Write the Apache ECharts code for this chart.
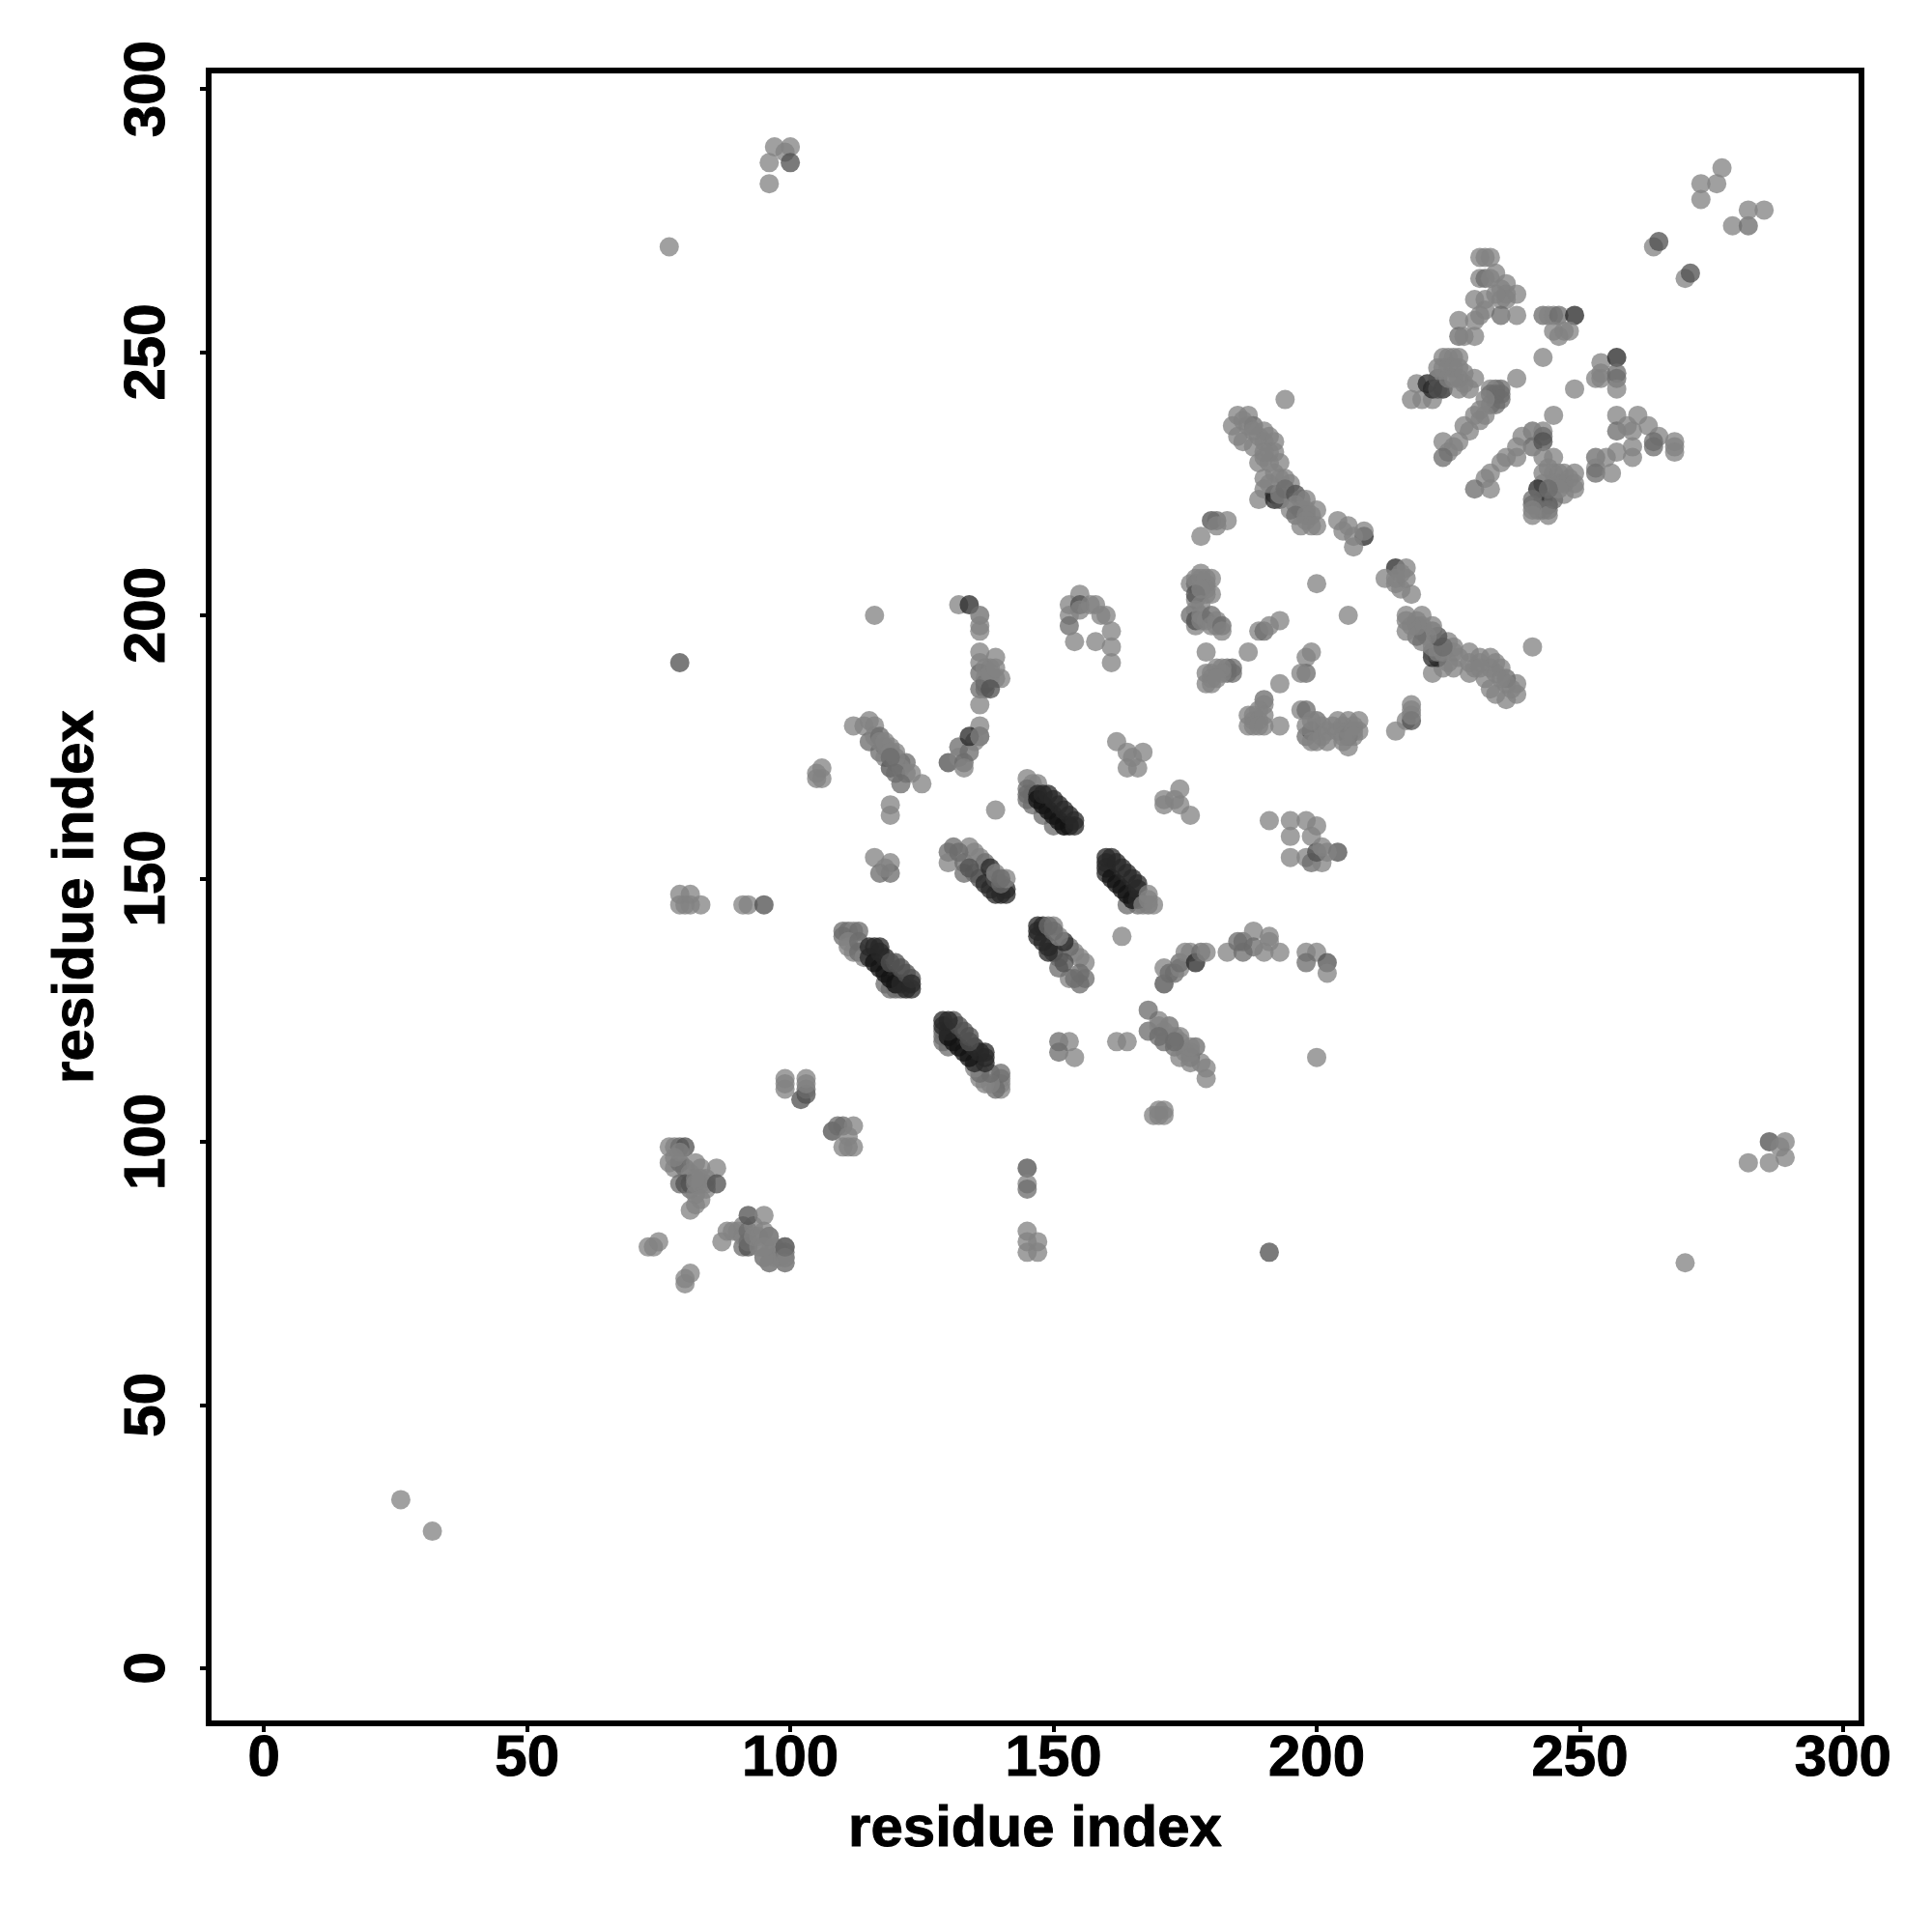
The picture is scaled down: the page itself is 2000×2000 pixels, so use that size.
<!DOCTYPE html>
<html><head><meta charset="utf-8">
<style>html,body{margin:0;padding:0;background:#fff}#c{width:2000px;height:2000px}</style>
<script src="https://cdn.jsdelivr.net/npm/echarts@6/dist/echarts.min.js"></script>
</head><body><div id="c"></div>
<script>
const tickValues = [0,50,100,150,200,250,300];
const axisTitle = "residue index";
// shade index for each contact: 0 light, 1 mid, 2 dim, 3 dark, 4 darkest
const shadeGrey = [130,108,80,40,18];
// every entry: [residue x, residue y, shade]
const isolated = [[26,32,0],[32,26,0],[77,270,0],[270,77,0],[79,191,2],[191,79,2],[96,282,0],[96,286,0],[97,289,0],[99,288,0],[100,289,0],[100,286,2],
[282,96,0],[286,96,0],[286,100,2],[289,97,0],[289,100,0],[288,99,0],
[277,285,0],[273,282,0],[276,282,0],[273,279,0],[279,274,0],[282,274,1],[282,277,0],[285,277,0],
[264,270,0],[265,271,2],[270,264,0],[271,265,2],[116,200,0],[200,116,0],[139,163,0],[163,139,0],[194,241,0],[241,194,0],[200,206,0],[206,200,0]];
const lowCluster = [[77,99,0],[78,99,0],[79,99,1],[80,99,2],[77,96,0],[78,95,0],[79,96,1],[80,95,1],[78,97,0],[79,98,0],[81,94,0],[82,96,0],[83,95,0],[86,95,0],[79,92,1],[80,92,2],[81,91,1],[81,92,2],[82,92,0],[84,92,0],[82,90,0],[83,93,0],[84,93,0],[83,92,0],[84,91,0],[82,93,0],[86,92,2],[81,87,0],[82,88,0],[83,89,0],
[73,80,0],[74,80,0],[75,81,0],[87,81,0],[88,83,0],[89,83,0],[90,83,0],[91,84,0],[91,80,1],[91,82,0],[92,80,2],[92,81,1],[92,83,1],[93,84,0],[93,82,0],[94,80,0],[94,82,0],[92,86,2],[95,86,0],[95,83,0],[96,82,1],[95,78,0],[96,77,0],[96,79,0],[97,80,0],[97,78,0],[98,78,0],[98,79,0],[99,77,0],[99,78,1],[99,79,1],[99,80,2],[81,75,0],[80,74,0],[80,73,0],
[99,77,0],[99,78,0],[99,80,1],[96,77,0],[95,78,0],[95,80,0],[96,82,0],
[99,110,0],[99,111,0],[99,112,0],[102,108,2],[103,109,2],[103,110,1],[103,111,0],[103,112,0],
[108,102,2],[109,103,1],[110,103,1],[111,101,0],[110,99,0],[111,99,0],[112,99,0],[112,103,0],
[145,95,2],[145,92,0],[145,91,1],[145,83,0],[145,81,0],[145,79,0],[147,81,0],[147,79,0],
[79,145,0],[80,145,0],[81,145,0],[83,145,0],[79,147,0],[81,147,0],[91,145,0],[92,145,0],[95,145,2],
[105,169,0],[105,170,0],[106,169,0],[106,171,0],[169,105,0],[170,105,0],[171,105,0],[171,106,0],[170,106,0]];
const bandUpperLeft = [[112,179,0],[115,180,0],[114,179,0],[116,179,0],[115,176,1],[116,177,0],[117,177,1],[118,175,1],[119,175,0],[117,174,1],[118,173,0],[120,174,0],[119,171,2],[120,172,1],[121,172,0],[122,172,1],[117,176,0],[118,176,0],[119,174,0],[120,173,0],[121,171,0],[122,170,0],[120,170,1],[119,173,1],[123,170,0],[121,168,1],[125,168,0],
[119,164,0],[119,162,0],[116,154,0],[119,153,0],[117,151,1],[119,151,1],[118,152,0],
[179,112,0],[179,114,0],[178,115,0],[176,116,1],[175,117,0],[174,120,0],[172,122,1],[171,119,1],[170,123,0],[168,121,1],[168,125,1],[173,118,1],[177,118,1],[176,115,0],[174,116,0],[176,117,0],[176,118,0],[174,119,0],[173,120,0],[171,121,0],[170,122,0],[170,120,1],[173,119,1],
[151,119,1],[153,119,0],[151,117,1],[154,116,0],[162,119,0],[164,119,0]];
const bandUpperMid = [[132,202,0],[134,202,3],[136,200,1],[136,198,0],[136,197,0],[136,193,0],[139,192,0],[136,191,0],[138,190,0],[136,189,1],[137,187,2],[137,186,1],[138,188,0],[140,188,0],[137,190,0],[137,188,0],[139,188,0],[138,189,0],[139,190,0],[136,186,1],[138,186,2],[136,183,0],[136,179,0],[136,177,1],
[130,172,2],[132,175,1],[132,173,0],[133,172,1],[134,174,1],[133,171,0],[135,176,0],[134,177,3],[136,177,0],
[153,202,0],[153,200,0],[153,198,1],[155,204,0],[155,202,2],[155,201,0],[154,195,0],[157,202,0],[158,202,0],[159,200,0],[160,200,0],[161,197,0],[158,195,0],[161,194,0],[161,191,0],
[162,176,0],[164,174,0],[164,171,0],[166,171,0],[165,173,0],[167,174,0],[171,165,0],[171,164,0],[174,167,0],[174,164,0],[173,165,0],[176,162,0],
[191,161,0],[195,161,0],[198,161,0],[200,160,0],[195,158,0],[199,158,0],[195,154,0],[198,154,0],[199,153,1],[201,153,0],[200,155,2],[201,156,0],[204,155,2],[202,155,0]];
const strandOne = [[145,169,0],[147,168,0],[146,168,0],[145,167,1],[145,166,1],[145,165,1],[146,166,1],[146,164,1],[148,162,1],[150,160,1],[152,160,1],
[147,166,3],[147,165,4],[148,164,4],[149,163,4],[150,162,4],[151,161,4],[152,160,4],[153,160,4],[154,160,3],[148,166,3],[149,166,3],[150,165,3],[151,164,3],[152,163,3],[153,162,3],[154,161,3],
[164,145,1],[166,145,1],[168,145,1],[160,154,3],[161,154,3],[160,153,3],[160,152,3],[160,151,3],[161,150,4],[162,149,4],[163,148,4],[164,147,4],[165,146,4],[166,146,3],[162,153,3],[163,152,3],[164,151,3],[165,150,3],[166,149,3],[166,148,3],[167,145,0],[168,147,0],[169,145,0],[168,146,0]];
const strandTwo = [[131,156,1],[130,155,1],[130,153,0],[134,156,0],[133,153,1],[133,151,1],[135,151,1],[136,154,0],[135,155,0],[132,155,1],[137,153,1],[134,152,2],[136,150,2],
[137,149,3],[138,148,3],[139,147,3],[140,147,3],[141,147,3],[141,148,3],[138,152,3],[139,150,2],[139,151,0],[140,149,1],[141,150,0],[140,150,1],
[156,131,1],[155,130,1],[153,131,0],[156,134,0],[154,131,1],[151,133,1],[151,135,1],[154,136,0],[155,135,0],[155,132,1],[153,137,1],[152,134,2],[150,136,2],
[149,137,3],[148,138,3],[147,139,3],[147,140,3],[147,141,3],[148,141,3],[149,136,3],[152,138,3],[150,141,0],[151,139,0],[149,141,1],[150,140,1]];
const strandThree = [[110,140,1],[111,140,1],[112,140,0],[113,140,1],[110,139,1],[111,138,0],[111,137,0],[112,136,0],[113,136,1],[113,138,1],[114,135,0],[120,129,1],[121,129,1],[118,130,1],[119,129,1],
[115,137,3],[116,137,3],[117,137,3],[115,135,3],[116,134,4],[117,133,4],[118,132,4],[119,131,4],[120,130,4],[121,130,3],[122,129,3],[123,129,3],[118,135,3],[117,136,3],[119,134,2],[120,134,2],[121,133,2],[122,132,2],[123,131,2],[123,130,3],
[140,110,0],[140,111,0],[140,112,0],[140,113,1],[139,110,1],[138,111,0],[137,111,0],[136,112,0],[136,113,1],[138,113,1],[135,114,0],[129,120,1],[129,121,1],[130,118,1],[129,119,1],
[137,115,3],[137,116,3],[137,117,3],[135,115,3],[134,116,4],[133,117,4],[132,118,4],[131,119,4],[130,120,4],[130,121,3],[129,122,3],[129,123,3],[135,118,3],[136,117,3],[134,119,2],[134,120,2],[133,121,2],[132,122,2],[131,123,2],[130,123,3]];
const arcLower = [[171,130,2],[171,133,0],[172,132,1],[173,132,1],[174,133,0],[174,134,1],[175,136,0],[176,136,0],[177,134,3],[178,136,1],[179,136,0],
[183,136,0],[185,138,1],[186,136,1],[186,138,1],[188,140,0],[188,137,1],[190,136,0],[191,138,0],[191,139,0],[193,136,0],[198,136,0],[200,136,0],[198,134,1],[202,134,2],[202,132,0]];
const bandUpper = [[185,238,0],[184,236,0],[187,238,0],[186,237,0],[188,236,1],[186,233,0],[185,234,0],[187,236,0],[188,235,0],[190,235,0],[189,234,0],[190,233,0],[191,234,0],[192,233,0],[188,232,0],[190,230,0],[191,231,0],[192,231,0],[189,229,0],[191,229,0],[193,229,0],[190,231,0],[192,227,0],[190,224,0],[189,222,0],[192,223,3],[192,222,3],[193,222,2],[193,223,0],[193,226,0],[194,226,0],[191,225,0],[190,226,0],[195,225,0],[194,224,1],[196,223,2],[197,222,1],[198,222,0],[196,221,0],[197,220,0],[198,220,0],[200,220,0],[195,220,0],[196,219,1],[198,219,0],[199,219,0],[198,218,0],[197,217,0],[199,217,0],[200,217,0],[204,218,0],[206,217,0],[209,215,3],[207,215,0],[209,216,0],[207,213,0],[205,216,0],
[180,218,2],[181,218,1],[183,218,0],[178,215,0],[181,217,0],
[176,206,0],[178,208,0],[177,206,1],[180,207,0],[179,206,0],[178,207,0],[177,207,0],[179,207,0],[179,205,0],[179,204,0],[177,203,0],[180,204,0],[177,204,2],[178,205,0],[178,202,0],[176,200,1],[177,201,0],[177,198,0],[177,199,2],[178,199,0],[178,200,0],[179,199,0],[180,200,1],[180,198,0],[181,199,0],[181,198,0],[182,198,1],[182,197,0],
[189,197,0],[190,197,1],[191,198,0],[193,199,0],[179,193,0],[187,193,0],[179,189,0],[184,190,1],[184,189,1],[183,190,1],[183,189,1],[180,189,0],[181,190,0],[180,188,0],[182,190,0],[180,187,0],[179,187,0],[182,189,0],[181,188,0],
[199,193,0],[198,192,0],[198,189,1],[197,189,0],[193,187,0],[190,184,1],[190,183,0],[187,181,0],[187,179,0],[188,180,0],[188,181,0],[189,182,0],[189,180,0],[188,179,0],[190,181,0],[189,179,0],[190,179,0],[193,179,0],
[197,182,0],[198,182,1],[200,180,1],[198,177,1],[199,178,2],[199,180,0],[198,179,0],[200,176,0],[199,176,0],[201,179,0],[201,177,0],[202,176,0],[202,178,0],[203,179,0],[204,178,0],[204,180,0],[205,179,0],[206,180,0],[208,180,0],[208,178,0],[206,177,3],[206,178,0],[207,179,0],[207,178,0],[205,177,0],[206,175,0],[205,176,0],[207,177,0],
[215,178,0],[218,183,0],[218,182,0],[217,180,0],[218,180,2],[218,181,0]];
const bandUpperMirror = [[238,185,0],[236,184,0],[238,187,0],[237,186,0],[236,188,1],[233,186,0],[234,185,0],[236,187,0],[235,188,0],[235,190,0],[234,189,0],[233,190,0],[234,191,0],[233,192,0],[232,188,0],[230,190,0],[231,191,0],[231,192,0],[229,189,0],[229,191,0],[229,193,0],[231,190,0],[227,192,0],[224,190,0],[222,189,0],[223,192,3],[222,192,3],[222,193,2],[223,193,0],[224,193,0],[222,194,0],[226,193,0],[226,194,0],[225,191,0],[226,190,0],[225,195,0],[224,194,1],[223,196,2],[222,197,1],[222,198,0],[221,196,0],[220,197,0],[220,198,0],[220,200,0],[220,195,0],[219,196,1],[219,198,0],[219,199,0],[218,198,0],[217,197,0],[217,199,0],[217,200,0],
[215,209,3],[217,209,0],[215,207,0],[213,207,0],[216,205,0],[215,206,0],[218,204,0],[217,207,0],[216,208,0]];
const topBlock = [[231,268,0],[232,268,0],[233,268,0],[231,264,0],[232,264,1],[234,265,0],[233,264,0],[236,263,0],[235,262,0],[238,261,0],[236,261,0],[230,260,0],[232,260,0],[235,260,0],[236,260,0],[234,261,0],[231,257,0],[232,258,0],[235,257,1],[238,257,0],[227,256,0],[230,256,0],[227,253,1],[228,253,0],[230,253,0],
[243,257,1],[244,257,0],[245,257,0],[246,257,1],[249,257,3],[245,254,0],[248,254,0],[246,253,0],[247,254,0],[243,249,0],[254,248,0],[257,249,3],[253,245,0],[254,245,0],[254,246,0],[257,246,1],[257,245,1],[257,243,0],[238,245,0],[249,243,0],[245,238,0],
[257,238,0],[257,235,1],[261,238,0],[259,236,0],[260,235,0],[263,236,0],[265,234,0],[264,233,1],[264,232,1],[260,232,0],[260,230,0],[257,231,0],[268,233,0],[268,232,0],[268,231,0],[253,230,1],[253,228,0],[253,227,1],[256,227,0],[255,230,0]];
const midBlock = [[218,241,0],[219,244,0],[220,241,0],[222,241,0],[221,244,3],[222,243,3],[223,245,2],[224,243,3],[223,243,2],[224,249,0],[225,249,0],[227,249,0],[226,249,0],[223,247,0],[224,247,0],[225,247,0],[226,247,0],[227,247,0],[225,245,0],[226,245,0],[227,245,0],[228,246,0],[228,244,0],[227,243,0],[230,245,0],[229,243,0],[235,243,1],[234,243,1],[233,243,0],[233,242,1],[234,242,1],[235,242,1],[235,241,1],[234,240,1],[233,240,1],[232,241,0],
[231,239,0],[230,238,0],[232,238,0],[231,237,0],[229,235,0],[228,236,0],[224,233,0],[227,233,0],[226,232,0],[225,231,0],[224,230,1],
[241,235,1],[243,235,0],[243,234,1],[239,234,0],[241,232,1],[243,233,2],[238,232,0],[238,230,0],[236,230,0],[235,229,0],[233,227,0],[232,226,0],[230,224,1],[233,224,0],
[245,230,0],[243,230,0],[244,228,0],[243,227,0],[245,227,0],[246,227,0],[247,227,0],[246,225,0],[245,225,0],[243,225,0],[247,225,0],[248,226,0],[249,227,0],[249,225,0],[249,224,0],[247,223,0],[242,224,3],[243,222,2],[244,221,3],[241,222,1],[241,221,1],[242,220,1],[243,220,1],[244,220,1],[241,220,0],[241,219,0],[244,219,0],[245,222,1],[246,224,0],[244,224,1]];
const allContacts = [].concat(isolated,lowCluster,bandUpperLeft,bandUpperMid,strandOne,strandTwo,strandThree,arcLower,bandUpper,bandUpperMirror,topBlock,midBlock);

const textFont = '"Liberation Sans", Arial, sans-serif';
const labelFont = {fontFamily:textFont,fontWeight:'bold',fontSize:60,color:'#000',textBorderColor:'#000',textBorderWidth:1};
const chart = echarts.init(document.getElementById('c'),null,{renderer:'canvas'});
const axisBase = (gap,rotName) => ({
  type:'value',min:-10.5,max:303.5,
  name:axisTitle,nameLocation:'middle',nameGap:gap,nameRotate:rotName,
  nameTextStyle:labelFont,
  axisLine:{show:false,onZero:false},splitLine:{show:false},
  axisTick:{show:true,length:9,inside:false,customValues:tickValues,lineStyle:{color:'#000',width:4}}
});
chart.setOption({
  animation:false,backgroundColor:'#fff',
  grid:{left:216,right:73,top:73,bottom:216,containLabel:false,show:true,borderColor:'#000',borderWidth:6,backgroundColor:'transparent'},
  xAxis:Object.assign(axisBase(80),{axisLabel:Object.assign({customValues:tickValues,margin:7,showMinLabel:true,showMaxLabel:true,hideOverlap:false},labelFont)}),
  yAxis:Object.assign(axisBase(107,90),{axisLabel:Object.assign({customValues:tickValues,rotate:90,margin:63,align:'center',verticalAlign:'middle',showMinLabel:true,showMaxLabel:true,hideOverlap:false},labelFont)}),
  series:[{type:'scatter',symbol:'circle',symbolSize:20,silent:true,large:false,
    data:allContacts.map(p=>({value:[p[0],p[1]],itemStyle:{color:'rgba('+shadeGrey[p[2]]+','+shadeGrey[p[2]]+','+shadeGrey[p[2]]+',0.95)'}}))}]
});
</script></body></html>
